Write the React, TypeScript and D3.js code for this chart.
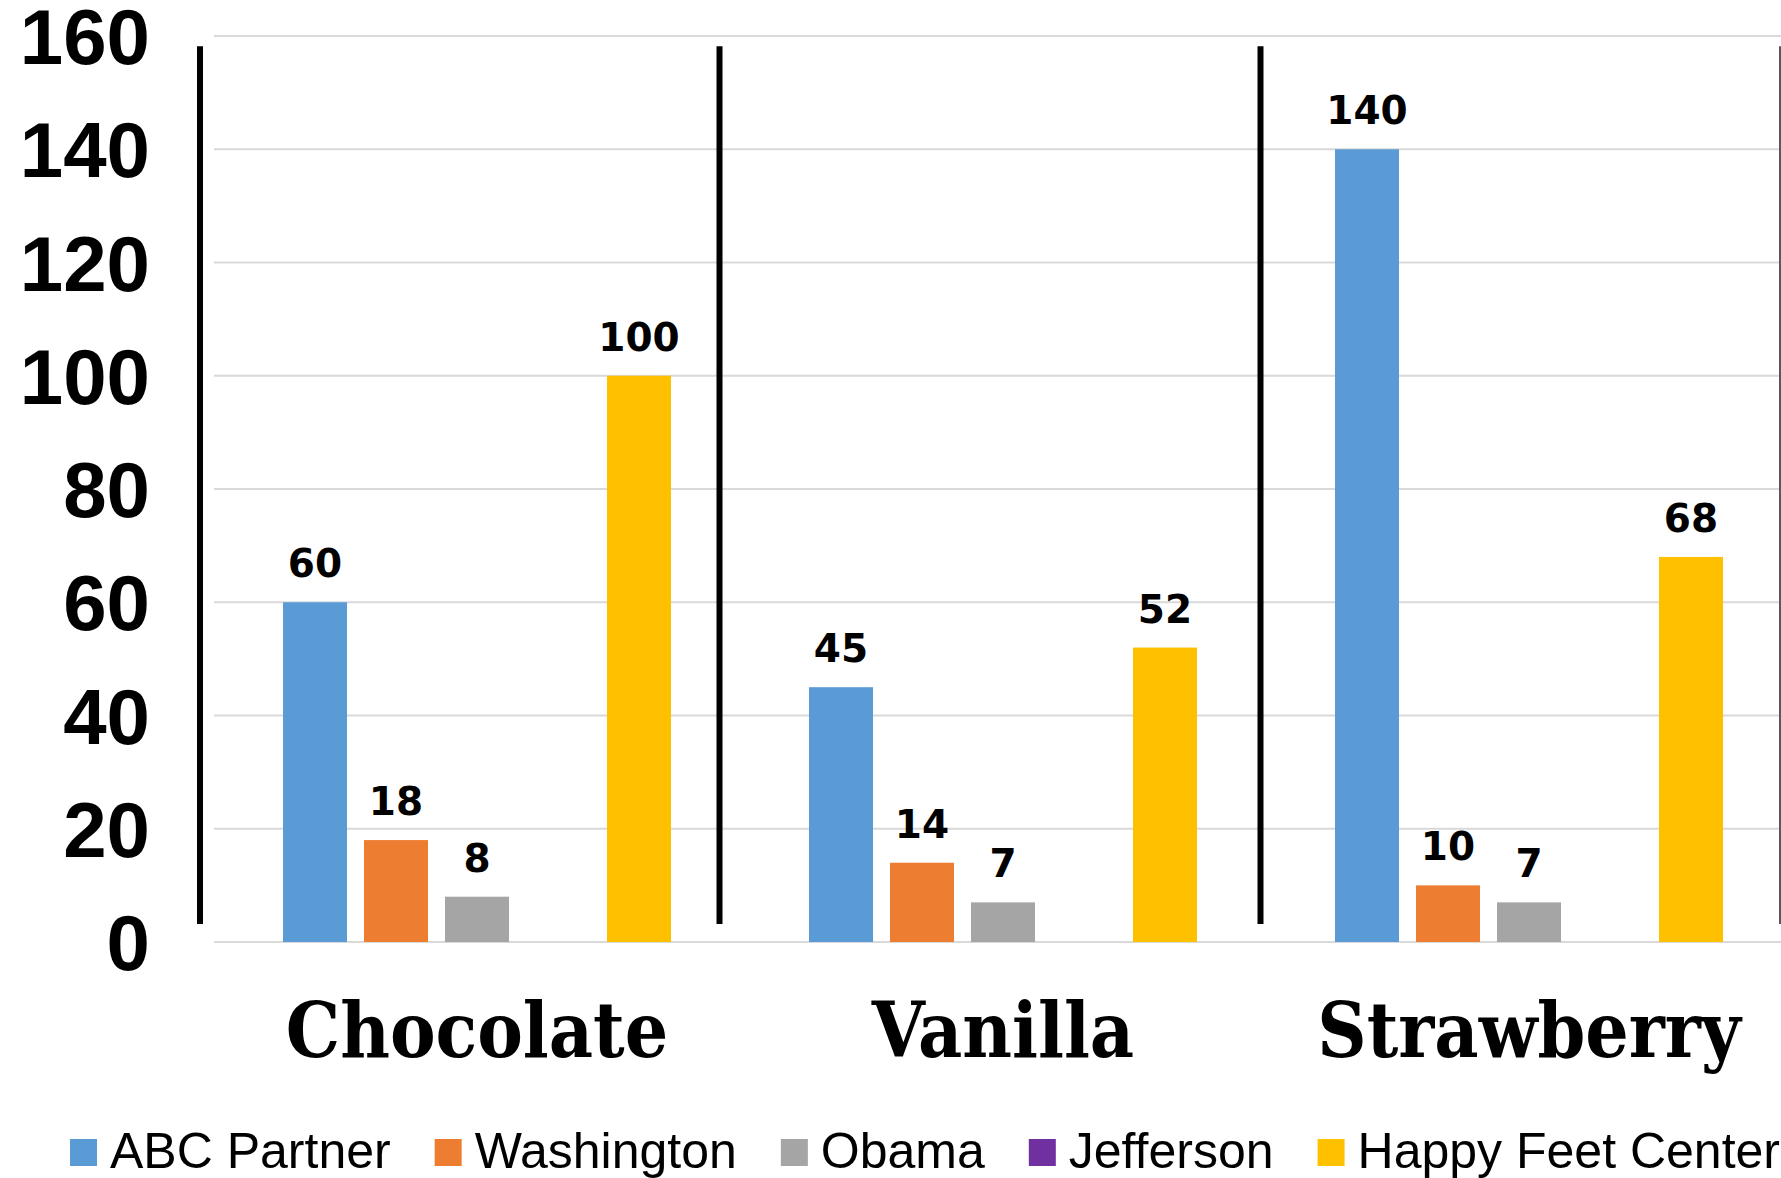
import React from "react";
import * as d3 from "d3";

const categories = ["Chocolate", "Vanilla", "Strawberry"];
const seriesNames = ["ABC Partner", "Washington", "Obama", "Jefferson", "Happy Feet Center"];
const seriesColors = ["#5B9BD5", "#ED7D31", "#A5A5A5", "#7030A0", "#FFC000"];
const abcPartner = [60, 45, 140];
const washington = [18, 14, 10];
const obama = [8, 7, 7];
const jefferson: (number | null)[] = [null, null, null];
const happyFeet = [100, 52, 68];
const yTicks = [0, 20, 40, 60, 80, 100, 120, 140, 160];

const seriesValues = [abcPartner, washington, obama, jefferson, happyFeet];

const W = 1781;
const H = 1178;
const M = { left: 214, top: 36, bottom: 236 };
const BAND = 526;

function measure(text: string, font: string): number {
  const c = document.createElement("canvas");
  const ctx = c.getContext("2d");
  if (!ctx) return text.length * 25;
  ctx.font = font;
  return ctx.measureText(text).width;
}

export default function App() {
  const y = d3.scaleLinear().domain([0, 160]).range([H - M.bottom, M.top]);
  const x0 = d3
    .scaleBand<string>()
    .domain(categories)
    .range([M.left, M.left + BAND * categories.length])
    .paddingInner(0)
    .paddingOuter(0);
  const x1 = d3
    .scaleBand<string>()
    .domain(seriesNames)
    .range([0, x0.bandwidth()])
    .paddingInner(0.21)
    .paddingOuter(0.852);

  const sepTop = y(158.2);
  const sepBot = y(3.2);

  const legendFont = "50px 'Liberation Sans', Arial, sans-serif";
  let lx = 70;
  const legendItems = seriesNames.map((name, i) => {
    const item = { name, color: seriesColors[i], x: lx };
    lx += 40 + measure(name, legendFont) + 44;
    return item;
  });

  return (
    <svg
      width={W}
      height={H}
      style={{ position: "absolute", left: 0, top: 0, background: "#fff" }}
    >
      <rect x={0} y={0} width={W} height={H} fill="#fff" />
      {yTicks.map((t) => (
        <line
          key={"g" + t}
          x1={M.left}
          x2={W}
          y1={y(t)}
          y2={y(t)}
          stroke="#d9d9d9"
          strokeWidth={2}
        />
      ))}
      {yTicks.map((t) => (
        <text
          key={"t" + t}
          x={150}
          y={y(t)}
          dy="0.36em"
          textAnchor="end"
          fontFamily="'Liberation Sans', Arial, sans-serif"
          fontWeight="bold"
          fontSize={78}
          fill="#000"
        >
          {t}
        </text>
      ))}
      {categories.map((c, ci) => (
        <g key={c} transform={`translate(${x0(c)},0)`}>
          {seriesNames.map((s, si) => {
            const v = seriesValues[si][ci];
            if (v == null) return null;
            return (
              <rect
                key={s}
                x={x1(s)}
                y={y(v)}
                width={x1.bandwidth()}
                height={y(0) - y(v)}
                fill={seriesColors[si]}
              />
            );
          })}
          {seriesNames.map((s, si) => {
            const v = seriesValues[si][ci];
            if (v == null) return null;
            return (
              <text
                key={"l" + s}
                x={(x1(s) as number) + x1.bandwidth() / 2}
                y={y(v) - 25}
                textAnchor="middle"
                fontFamily="'DejaVu Sans', Verdana, sans-serif"
                fontWeight="bold"
                fontSize={39}
                fill="#000"
              >
                {v}
              </text>
            );
          })}
        </g>
      ))}
      {[200, 719.5, 1260.5].map((sx) => (
        <line key={"s" + sx} x1={sx} x2={sx} y1={sepTop} y2={sepBot} stroke="#000" strokeWidth={6} />
      ))}
      <line x1={1780} x2={1780} y1={sepTop} y2={sepBot} stroke="#595959" strokeWidth={2} />
      {categories.map((c) => (
        <text
          key={"c" + c}
          x={(x0(c) as number) + x0.bandwidth() / 2}
          y={1057}
          textAnchor="middle"
          fontFamily="'DejaVu Serif', Georgia, serif"
          fontWeight="bold"
          fontSize={76}
          style={{ fontStretch: "condensed" }}
          fill="#000"
        >
          {c}
        </text>
      ))}
      {legendItems.map((it) => (
        <g key={"lg" + it.name}>
          <rect x={it.x} y={1139} width={27} height={27} fill={it.color} />
          <text
            x={it.x + 40}
            y={1168}
            fontFamily="'Liberation Sans', Arial, sans-serif"
            fontSize={50}
            fill="#000"
          >
            {it.name}
          </text>
        </g>
      ))}
    </svg>
  );
}
